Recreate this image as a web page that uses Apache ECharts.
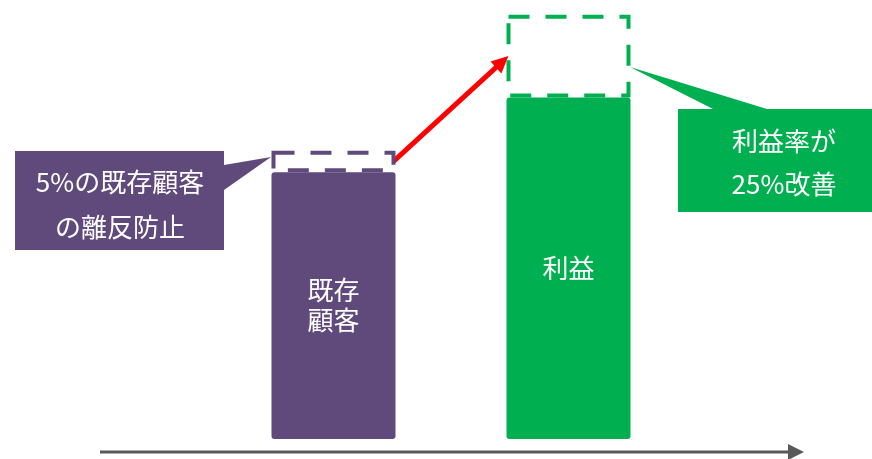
<!DOCTYPE html>
<html>
<head>
<meta charset="utf-8">
<script src="https://cdn.jsdelivr.net/npm/echarts@6/dist/echarts.min.js"></script>
<style>
  html, body { margin: 0; padding: 0; background: #fff; }
  #chart { width: 872px; height: 459px; }
</style>
</head>
<body>
<div id="chart"></div>
<script>
// data
const categories = ["既存\n顧客", "利益"];
const baseValues = [100, 128];     // solid bars
const targetValues = [108, 159];   // top of dashed boxes
const barColors = ["#604A7B", "#00B050"];
const calloutTexts = ["5%の既存顧客\nの離反防止", "利益率が\n25%改善"];

const FONT = '"Noto Sans CJK JP", "Noto Sans CJK SC", sans-serif';
const BAR_W = 124;
const LINE_W = 4;

const chart = echarts.init(document.getElementById("chart"));

chart.setOption({
  animation: false,
  grid: { left: 216, right: 186, top: 12, bottom: 20 },
  xAxis: { type: "category", data: categories, show: false },
  yAxis: { type: "value", min: 0, max: 160, show: false },
  series: [
    {
      type: "bar",
      barWidth: BAR_W,
      data: baseValues.map((v, i) => ({
        value: v,
        itemStyle: { color: barColors[i], borderRadius: 3 },
      })),
      label: {
        show: true,
        position: "inside",
        formatter: "{b}",
        color: "#fff",
        fontSize: 26,
        lineHeight: 30,
        fontFamily: FONT,
      },
    },
    {
      // dashed boxes on top of the bars
      type: "custom",
      data: targetValues.map((v, i) => [i, baseValues[i], v]),
      renderItem: function (params, api) {
        const i = api.value(0);
        const bottom = api.coord([i, api.value(1)]);
        const top = api.coord([i, api.value(2)]);
        return {
          type: "rect",
          shape: {
            x: bottom[0] - BAR_W / 2 + LINE_W / 2,
            y: top[1] + LINE_W / 2,
            width: BAR_W - LINE_W,
            height: bottom[1] - top[1] - LINE_W,
          },
          style: {
            fill: "none",
            stroke: barColors[i],
            lineWidth: LINE_W,
            lineDash: [21, 16],
          },
        };
      },
    },
  ],
});

// red arrow between the middles of the two dashed boxes
const mid0 = chart.convertToPixel({ seriesIndex: 0 }, [0, (baseValues[0] + targetValues[0]) / 2]);
const mid1 = chart.convertToPixel({ seriesIndex: 0 }, [1, (baseValues[1] + targetValues[1]) / 2]);
const start = [mid0[0] + BAR_W / 2 - 2, mid0[1]];
const end = [mid1[0] - BAR_W / 2 + 2, mid1[1]];
const dx = end[0] - start[0];
const dy = end[1] - start[1];
const len = Math.sqrt(dx * dx + dy * dy);
const ux = dx / len, uy = dy / len;
const headLen = 17, headHalf = 8;
const hb = [end[0] - ux * headLen, end[1] - uy * headLen];

chart.setOption({
  graphic: [
    {
      type: "line",
      shape: { x1: start[0], y1: start[1], x2: hb[0] + ux * 2, y2: hb[1] + uy * 2 },
      style: { stroke: "#FF0000", lineWidth: 5 },
    },
    {
      type: "polygon",
      shape: {
        points: [
          end,
          [hb[0] - uy * headHalf, hb[1] + ux * headHalf],
          [hb[0] + uy * headHalf, hb[1] - ux * headHalf],
        ],
      },
      style: { fill: "#FF0000" },
    },
    // purple callout
    {
      type: "polygon",
      shape: {
        points: [[15, 151], [224, 151], [224, 165], [271, 157], [224, 190], [224, 250], [15, 250]],
      },
      style: { fill: barColors[0] },
    },
    {
      type: "text",
      x: 120,
      y: 205,
      style: {
        text: calloutTexts[0],
        fill: "#fff",
        font: "26px " + FONT,
        lineHeight: 45,
        align: "center",
        verticalAlign: "middle",
      },
    },
    // green callout
    {
      type: "polygon",
      shape: {
        points: [[678, 109], [713, 109], [630, 67], [767, 109], [872, 109], [872, 212], [678, 212]],
      },
      style: { fill: barColors[1] },
    },
    {
      type: "text",
      x: 784,
      y: 163,
      style: {
        text: calloutTexts[1],
        fill: "#fff",
        font: "26px " + FONT,
        lineHeight: 43,
        align: "center",
        verticalAlign: "middle",
      },
    },
    // bottom axis arrow
    {
      type: "line",
      shape: { x1: 100, y1: 452, x2: 790, y2: 452 },
      style: { stroke: "#595959", lineWidth: 3 },
    },
    {
      type: "polygon",
      shape: { points: [[788, 444], [804, 452], [788, 460]] },
      style: { fill: "#595959" },
    },
  ],
});
</script>
</body>
</html>
